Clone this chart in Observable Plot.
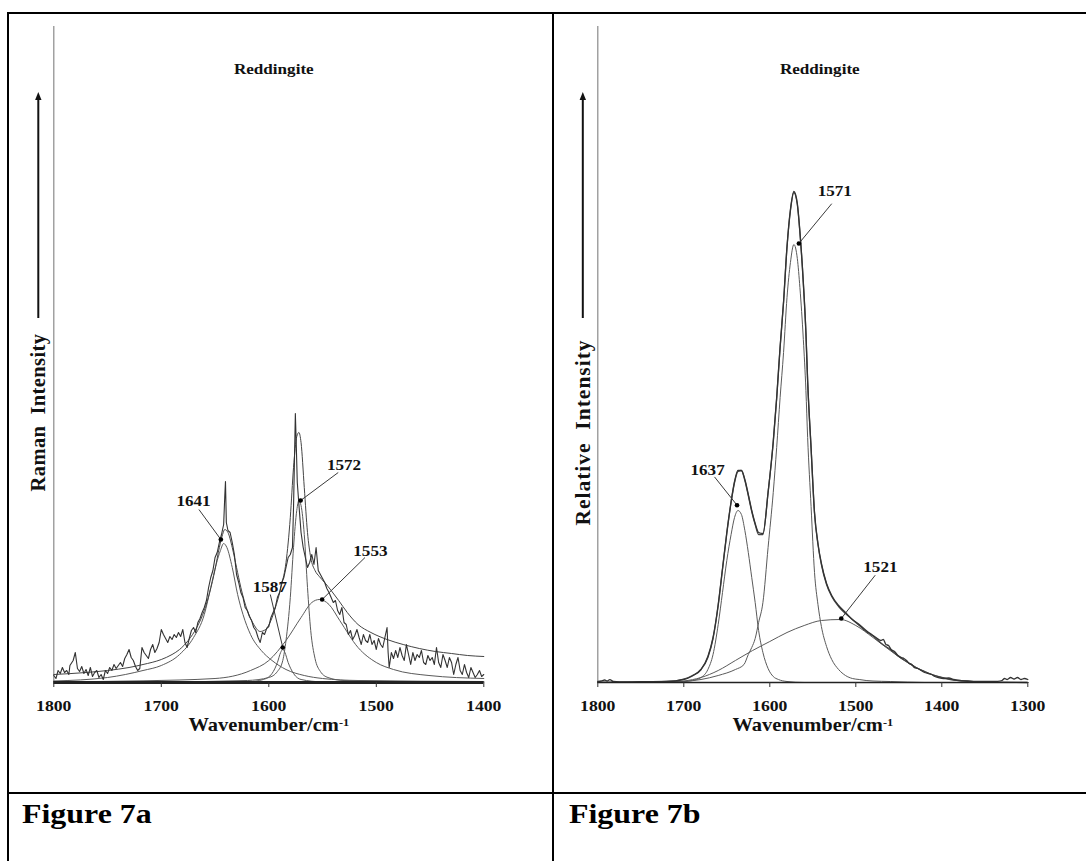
<!DOCTYPE html>
<html><head><meta charset="utf-8">
<script src="https://cdn.jsdelivr.net/npm/d3@7"></script>
<script src="https://cdn.jsdelivr.net/npm/@observablehq/plot@0.6"></script>
<style>
body{margin:0;background:#fff;}
#page{position:relative;width:1086px;height:861px;overflow:hidden;background:#fff;font-family:"Liberation Serif","Times New Roman",serif;}
.b{position:absolute;background:#000;z-index:5}
.fig{position:absolute;font-weight:bold;font-size:28px;line-height:28px;transform:scaleX(1.14);transform-origin:0 0;color:#000;white-space:nowrap}
.chart{position:absolute;top:0}
</style></head><body>
<div id="page">
 <div class="chart" id="ca" style="left:0px"></div>
 <div class="chart" id="cb" style="left:553px"></div>
 <div class="b" style="left:7px;top:12px;width:1079px;height:2px"></div>
 <div class="b" style="left:7px;top:12px;width:2px;height:849px"></div>
 <div class="b" style="left:552px;top:12px;width:2px;height:849px"></div>
 <div class="b" style="left:7px;top:792px;width:1079px;height:2px"></div>
 <div class="fig" style="left:22px;top:800px">Figure 7a</div>
 <div class="fig" style="left:569px;top:800px">Figure 7b</div>
</div>
<script>
// ---------- Figure 7a data (wavenumber, intensity) ----------
const ticksA = [1800, 1700, 1600, 1500, 1400];
const rawA = [[1800,7],[1798,4],[1796,12],[1794,9],[1792,15],[1790,10],[1788,12],[1786,8],[1785,17],[1782,22],[1780,30],[1778,14],[1776,11],[1774,16],[1772,9],[1770,13],[1768,7],[1766,15],[1764,6],[1762,10],[1760,12],[1758,5],[1756,8],[1754,3],[1752,12],[1750,9],[1748,15],[1746,12],[1744,18],[1742,14],[1740,17],[1738,20],[1736,16],[1734,24],[1732,28],[1730,33],[1728,25],[1726,22],[1724,16],[1722,12],[1720,14],[1718,35],[1716,30],[1714,27],[1712,24],[1710,33],[1708,38],[1706,30],[1704,34],[1702,40],[1700,53],[1698,48],[1696,44],[1694,40],[1692,46],[1690,43],[1688,48],[1686,45],[1684,50],[1682,46],[1680,53],[1678,40],[1676,35],[1674,44],[1672,52],[1670,55],[1668,50],[1666,60],[1664,64],[1662,70],[1660,75],[1658,82],[1656,95],[1654,105],[1652,112],[1650,125],[1648,130],[1646,140],[1644,148],[1642,158],[1641,185],[1640.3,201],[1639.5,160],[1638,152],[1636,150],[1634,140],[1632,128],[1630,108],[1628,100],[1626,90],[1624,85],[1622,75],[1620,72],[1618,66],[1616,62],[1614,55],[1612,52],[1610,45],[1608,40],[1606,50],[1604,48],[1602,54],[1600,56],[1598,65],[1596,70],[1594,75],[1592,85],[1590,90],[1588,100],[1586,105],[1584,115],[1582,125],[1580,128],[1578,135],[1577,175],[1576,230],[1575.3,269],[1574.5,240],[1573.5,200],[1572,178],[1570,150],[1568,135],[1566,125],[1564,115],[1562,120],[1560,128],[1558,118],[1556,135],[1554,112],[1552,108],[1550,104],[1548,100],[1546,94],[1544,90],[1542,85],[1540,80],[1538,82],[1536,72],[1534,68],[1532,75],[1530,60],[1528,58],[1526,48],[1524,52],[1522,43],[1520,47],[1518,53],[1516,45],[1514,38],[1512,48],[1510,42],[1508,40],[1506,48],[1504,38],[1502,42],[1500,33],[1498,44],[1496,38],[1494,35],[1492,45],[1490,55],[1489,30],[1488,15],[1486,30],[1484,24],[1482,32],[1480,25],[1478,35],[1476,27],[1474,22],[1472,38],[1470,28],[1468,18],[1466,30],[1464,22],[1462,28],[1460,25],[1458,32],[1456,20],[1454,18],[1452,27],[1450,22],[1448,25],[1446,18],[1444,35],[1442,20],[1440,15],[1438,28],[1436,22],[1434,15],[1432,25],[1430,20],[1428,8],[1426,18],[1424,25],[1422,12],[1420,8],[1418,18],[1416,10],[1414,5],[1412,15],[1410,10],[1408,5],[1406,8],[1404,12],[1402,6],[1400,8]];
const fitA = [[1800,8],[1770,10],[1750,12],[1730,15],[1717,18],[1700,23],[1690,28],[1683,33],[1675,42],[1667,55],[1660,72],[1655,90],[1650,113],[1646,135],[1643,148],[1641,153],[1638,150],[1634,135],[1630,115],[1626,95],[1620,72],[1614,58],[1608,51],[1603,53],[1598,62],[1593,78],[1588,98],[1584,120],[1580,165],[1577,215],[1574,246],[1572,250],[1570,240],[1567,195],[1564,150],[1561,125],[1557,112],[1553,106],[1548,100],[1542,92],[1535,82],[1527,70],[1517,58],[1505,50],[1490,43],[1475,38],[1460,34],[1445,31],[1430,29],[1415,27],[1400,26]];
const band1641A = [[1800,1.5],[1750,5],[1717,12],[1700,17],[1683,28],[1670,45],[1660,68],[1654,95],[1649,118],[1645,132],[1642,139],[1639,135],[1634,115],[1629,88],[1624,68],[1617,48],[1607,32],[1597,22],[1584,13],[1567,7],[1550,4],[1517,2],[1400,1]];
const band1587A = [[1620,0.5],[1605,3],[1597,9],[1592,20],[1589,30],[1587,33],[1585,30],[1582,20],[1577,9],[1570,3],[1550,0.5]];
const band1572A = [[1700,0.5],[1620,2],[1600,5],[1592,11],[1587,22],[1584,42],[1580,85],[1577,135],[1574,172],[1572,182],[1570,177],[1567,148],[1564,95],[1561,52],[1557,24],[1552,11],[1545,5],[1530,2],[1480,1],[1400,0.5]];
const band1553A = [[1800,0.7],[1717,1.7],[1650,4],[1617,12],[1600,22],[1584,42],[1570,65],[1560,80],[1553,83],[1544,78],[1534,62],[1517,35],[1500,20],[1484,13],[1451,7],[1400,4]];
const labelTextA = ["1641", "1587", "1572", "1553"];
const labelAtA = [[1670, 181], [1599, 95], [1530, 217], [1505.5, 131]];
const leaderFromA = [[1665, 173], [1598.6, 88], [1535.4, 210], [1510.5, 125]];
const leaderToA = [[1644.6, 143], [1587, 35], [1570.4, 182], [1550.4, 83]];

// ---------- Figure 7b data ----------
const ticksB = [1800, 1700, 1600, 1500, 1400, 1300];
const rawB = [[1800,1],[1796,1.5],[1792,2.5],[1789,1.5],[1786,2.8],[1782,1],[1775,0.5],[1750,0.8],[1720,1],[1700,3],[1690,6.5],[1680,13],[1672,26],[1666,45],[1660,78],[1655,114],[1650,150],[1645,181],[1641,201],[1637,212],[1633,212],[1629,203],[1625,188],[1621,172],[1617,159],[1613,150],[1608,149],[1602,190],[1596,241],[1592,285],[1588,336],[1584,381],[1580,436],[1576,473],[1572,491],[1568,479],[1565,451],[1561,400],[1558,350],[1556,302],[1552,235],[1548,170],[1544,139],[1540,119],[1534,99],[1528,87],[1520,77],[1512,70],[1504,63],[1496,58],[1488,52],[1480,47],[1475,44],[1471,42],[1468,43],[1465,38],[1462,37],[1459,33],[1455,31],[1451,27],[1447,25],[1444,24],[1441,22],[1438,19],[1435,18],[1432,15],[1428,14],[1424,12],[1420,10],[1416,9],[1412,8],[1408,6],[1404,5],[1398,4],[1392,4.5],[1386,3],[1380,2],[1370,1.5],[1360,1],[1345,1],[1335,1.2],[1330,2],[1327,4],[1324,3],[1320,5],[1316,3.5],[1312,5],[1308,3],[1304,4],[1300,3]];
const fitB = [[1800,0.3],[1750,0.5],[1720,1],[1700,3.5],[1690,7],[1680,13],[1672,25],[1666,44],[1660,77],[1655,113],[1650,149],[1645,180],[1641,200],[1637,211],[1633,212],[1629,202],[1625,187],[1621,171],[1617,158],[1613,148],[1608,148],[1602,190],[1596,240],[1592,284],[1588,335],[1584,380],[1580,435],[1576,472],[1572,490],[1568,478],[1565,450],[1561,399],[1558,349],[1556,301],[1552,234],[1548,169],[1544,138],[1540,118],[1534,98],[1528,86],[1520,76],[1512,69],[1504,63],[1496,57],[1488,51],[1480,46.5],[1470,39],[1460,33],[1450,26],[1440,20.5],[1430,15],[1420,11],[1410,7.5],[1400,5],[1390,3],[1380,2],[1360,0.7],[1340,0.3],[1300,0]];
const band1637B = [[1720,0],[1700,1],[1690,2],[1680,5],[1672,13],[1666,28],[1660,58],[1655,90],[1650,122],[1645,148],[1641,165],[1637,172],[1633,168],[1629,152],[1625,130],[1621,105],[1617,80],[1613,52],[1608,30],[1602,14],[1596,6],[1590,3],[1580,1],[1560,0],[1300,0]];
const band1571B = [[1720,0],[1700,1],[1680,3],[1660,7],[1640,13],[1630,18],[1625,28],[1621,35],[1617,44],[1613,60],[1608,80],[1602,135],[1596,190],[1592,235],[1588,285],[1584,330],[1580,385],[1576,420],[1572,438],[1568,424],[1565,395],[1561,343],[1558,292],[1556,245],[1552,176],[1548,110],[1544,78],[1540,56],[1534,36],[1528,23],[1520,13],[1512,7],[1504,4],[1496,3],[1488,2],[1480,1.5],[1460,1],[1420,0],[1300,0]];
const band1521B = [[1800,0],[1720,0.5],[1700,1.5],[1680,5],[1660,12],[1640,22],[1620,32],[1600,41],[1580,50],[1560,57],[1540,62],[1518,63],[1500,57],[1480,45],[1460,32],[1440,20],[1420,11],[1400,5],[1380,2],[1360,0.7],[1340,0.2],[1300,0]];
const labelTextB = ["1637", "1571", "1521"];
const labelAtB = [[1672.3, 212], [1524.4, 491], [1471.4, 115]];
const leaderFromB = [[1664.3, 205.6], [1528, 478.8], [1477.4, 107.3]];
const leaderToB = [[1638.1, 177.3], [1566.2, 439], [1516.9, 64]];

const FONT = "'Liberation Serif','Times New Roman',serif";
const X = d => d[0], Y = d => d[1];

// widen glyphs horizontally (reference image is horizontally stretched)
function stretch(svg, k) {
  d3.select(svg).selectAll("text").each(function () {
    const t = this.getAttribute("transform") || "";
    if (t.includes("rotate")) return;
    let bb;
    try { bb = this.getBBox(); } catch (e) { return; }
    const anchor = getComputedStyle(this).textAnchor || "start";
    let ax = anchor === "middle" ? bb.x + bb.width / 2 : anchor === "end" ? bb.x + bb.width : bb.x;
    if (!isFinite(ax)) return;
    this.setAttribute("transform", `${t} translate(${ax},0) scale(${k},1) translate(${-ax},0)`.trim());
  });
}
function superscript(svg) {
  d3.select(svg).selectAll("text").filter(function () { return this.textContent === "Wavenumber/cm⁻¹"; })
    .each(function () {
      const t = d3.select(this);
      t.text("Wavenumber/cm");
      t.append("tspan").attr("dy", "-0.45em").attr("font-size", "0.6em").text("-1");
    });
}
function upArrow(svg, x, yTop, yBottom) {
  const g = d3.select(svg).append("g");
  g.append("line").attr("x1", x).attr("x2", x).attr("y1", yBottom).attr("y2", yTop + 5)
    .attr("stroke", "#111").attr("stroke-width", 2);
  g.append("path").attr("d", `M${x},${yTop} L${x - 3.2},${yTop + 8} L${x + 3.2},${yTop + 8} Z`).attr("fill", "#111");
}

function chart(host, {width, marginLeft, marginRight, xDomain, ticks, raw, fit, bands, texts, at, from, to, yLabel, yLabelDy, yLabelDx, yLabelSize, yLabelSpacing, arrowBottom, titleDx, rawStyle, baseWidth}) {
  const labels = texts.map((t, i) => ({t, x: at[i][0], y: at[i][1], x1: from[i][0], y1: from[i][1], x2: to[i][0], y2: to[i][1]}));
  const svg = Plot.plot({
    width, height: 760,
    marginLeft, marginRight, marginTop: 26, marginBottom: 78,
    x: {domain: xDomain, axis: null},
    y: {domain: [0, 656], axis: null},
    style: {background: "transparent", overflow: "visible", fontFamily: FONT, fontWeight: "bold", color: "#111"},
    marks: [
      Plot.ruleX([xDomain[0]], {stroke: "#8a8a8a", strokeWidth: 1.2}),
      ...bands.map(b => Plot.line(b, {x: X, y: Y, stroke: "#5a5a5a", strokeWidth: 1, curve: "monotone-x"})),
      Plot.line(fit, {x: X, y: Y, stroke: "#444", strokeWidth: rawStyle.fitWidth, curve: "monotone-x"}),
      Plot.line(raw, {x: X, y: Y, stroke: "#333", strokeWidth: rawStyle.rawWidth, curve: rawStyle.curve}),
      Plot.ruleY([0], {stroke: "#222", strokeWidth: baseWidth}),
      Plot.axisX({ticks, tickSize: 5, tickPadding: 12, fontSize: 15.5, tickFormat: d => String(d), stroke: "#333"}),
      Plot.link(labels, {x1: "x1", y1: "y1", x2: "x2", y2: "y2", stroke: "#3a3a3a", strokeWidth: 1}),
      Plot.dot(labels, {x: "x2", y: "y2", r: 2.3, fill: "#000"}),
      Plot.text(labels, {x: "x", y: "y", text: "t", fontSize: 15, fill: "#111"}),
      Plot.text(["Wavenumber/cm⁻¹"], {frameAnchor: "bottom", dy: 48, fontSize: 18}),
      Plot.text(["Reddingite"], {frameAnchor: "top", dy: 37, dx: titleDx, fontSize: 15}),
      Plot.text([yLabel], {frameAnchor: "left", textAnchor: "middle", dx: yLabelDx, dy: yLabelDy, rotate: -90, fontSize: yLabelSize})
    ]
  });
  host.appendChild(svg);
  d3.select(svg).selectAll("text").filter(function () { return this.textContent === yLabel; })
    .style("letter-spacing", yLabelSpacing + "px");
  superscript(svg);
  stretch(svg, 1.14);
  upArrow(svg, marginLeft + yLabelDx, 92, arrowBottom);
  return svg;
}

chart(document.getElementById("ca"), {
  width: 553, marginLeft: 53.3, marginRight: 69.7, xDomain: [1800, 1400], ticks: ticksA,
  raw: rawA, fit: fitA, bands: [band1641A, band1587A, band1572A, band1553A],
  texts: labelTextA, at: labelAtA, from: leaderFromA, to: leaderToA,
  yLabel: "Raman  Intensity", yLabelDx: -15, yLabelDy: 58, yLabelSize: 20.5, yLabelSpacing: 0.4, arrowBottom: 318, titleDx: 5,
  rawStyle: {rawWidth: 1.1, fitWidth: 1, curve: "linear"}, baseWidth: 3
});
chart(document.getElementById("cb"), {
  width: 533, marginLeft: 44.3, marginRight: 58.7, xDomain: [1800, 1300], ticks: ticksB,
  raw: rawB, fit: fitB, bands: [band1637B, band1571B, band1521B],
  texts: labelTextB, at: labelAtB, from: leaderFromB, to: leaderToB,
  yLabel: "Relative  Intensity", yLabelDx: -14.5, yLabelDy: 78, yLabelSize: 21.5, yLabelSpacing: 1, arrowBottom: 318, titleDx: 7,
  rawStyle: {rawWidth: 1.3, fitWidth: 1.3, curve: "monotone-x"}, baseWidth: 1.6
});
</script>
</body></html>
